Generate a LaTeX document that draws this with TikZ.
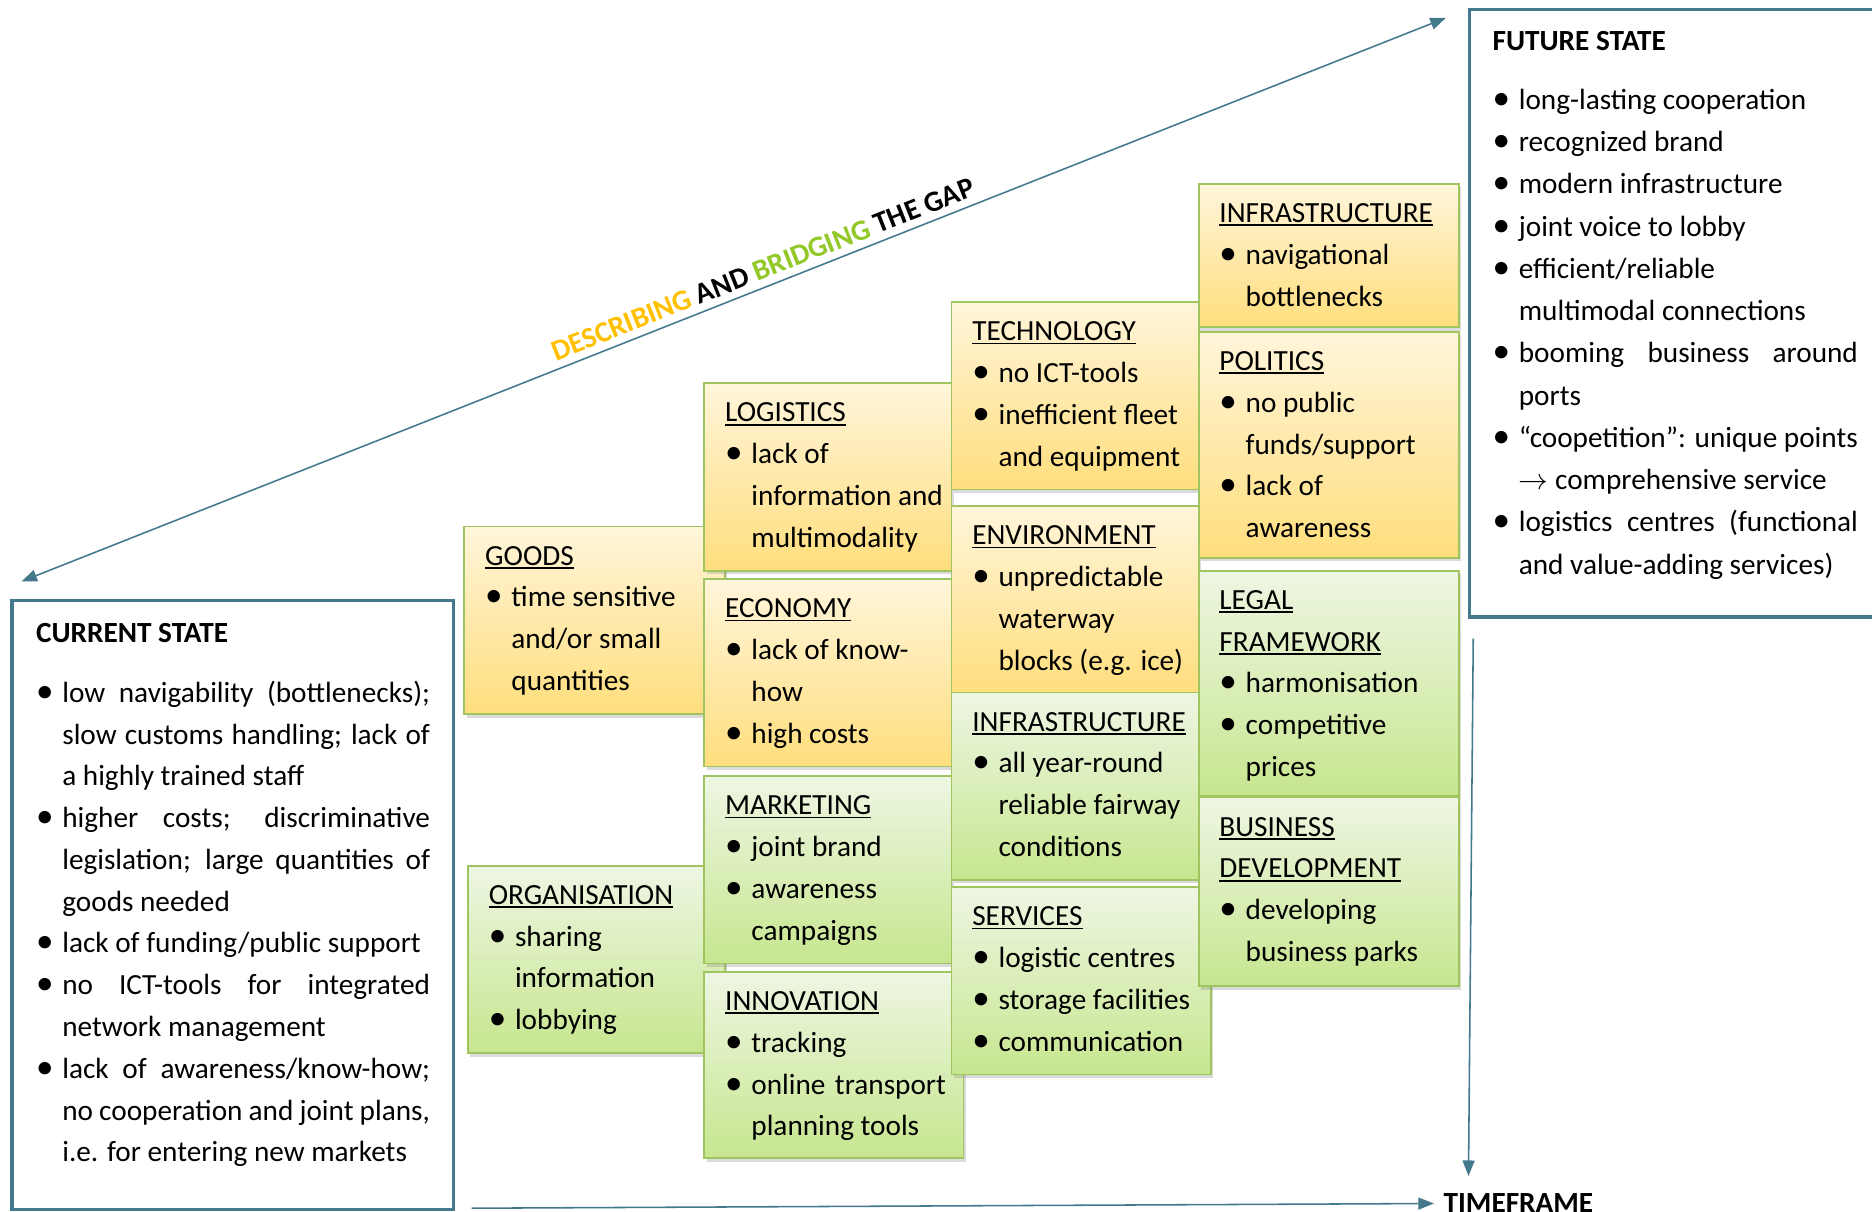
\documentclass[tikz,border=0pt]{standalone}
\usepackage{fontspec}
\setmainfont{Carlito}
\usetikzlibrary{arrows.meta,shadows,fit}

\definecolor{axisblue}{RGB}{68,121,141}
\definecolor{noteline}{RGB}{160,196,96}
\definecolor{ytop}{RGB}{255,245,218}
\definecolor{ybot}{RGB}{255,222,125}
\definecolor{gtop}{RGB}{238,246,227}
\definecolor{gbot}{RGB}{199,230,143}
\definecolor{descr}{RGB}{255,192,0}
\definecolor{bridg}{RGB}{146,200,40}

% underlined heading with a rule placed a little below the baseline
\newcommand\ul[1]{\setbox0\hbox{#1}\rlap{\rule[-3pt]{\wd0}{1.5pt}}\box0}
\newcommand\ttl[1]{\strut\ul{#1}}
% bullet line and continuation line (text starts 22pt in)
\newcommand\bi{\strut\makebox[22pt][l]{\scalebox{1.2}{\textbullet}}}
\newcommand\ci{\strut\hspace*{22pt}}
% justified line of a given width
\newcommand\js[2]{\makebox[#1][s]{#2}}

\tikzset{
  note/.style={draw=noteline, line width=1.6pt, inner sep=0pt,
    drop shadow={opacity=0.28, shadow xshift=2pt, shadow yshift=-3pt}},
  ynote/.style={note, top color=ytop, bottom color=ybot},
  gnote/.style={note, top color=gtop, bottom color=gbot},
  notetext/.style={anchor=north west, inner sep=0pt, align=left,
    font=\fontsize{24.5pt}{35pt}\selectfont},
  axis/.style={draw=axisblue, line width=1.3pt},
  tip/.style={-{Triangle[length=13pt,width=10pt]}},
  statebox/.style={draw=axisblue, line width=3pt, fill=white, inner sep=0pt},
  statetitle/.style={anchor=base west, inner sep=0pt,
    font=\bfseries\fontsize{24.5pt}{35pt}\selectfont},
}

% one sticky note: name, style, left, top, right, bottom, text
\newcommand\notebox[7]{%
  \node[#2, fit={(#3,#4) (#5,#6)}] (#1) {};
  \node[notetext] (#1-t) at ([shift={(18pt,-8.5pt)}]#1.north west) {#7};
}

\begin{document}
\begin{tikzpicture}[x=1pt,y=-1pt]
\useasboundingbox (0,0) rectangle (1568,1015);
\clip (0,0) rectangle (1568,1015);
\fill[white] (0,0) rectangle (1568,1015);

% ---- state boxes ----
\node[statebox, fit={(10,503) (380,1013)}] (current) {};
\node[statetitle] (current-title) at (30,538) {CURRENT STATE};
\node[notetext] (current-list) at (30,563.5) {%
  \bi\js{308pt}{low navigability (bottlenecks);}\\
  \ci\js{308pt}{slow customs handling; lack of}\\
  \ci a highly trained staff\\
  \bi\js{308pt}{higher costs; discriminative}\\
  \ci\js{308pt}{legislation; large quantities of}\\
  \ci goods needed\\
  \bi lack of funding/public support\\
  \bi\js{308pt}{no ICT-tools for integrated}\\
  \ci network management\\
  \bi\js{308pt}{lack of awareness/know-how;}\\
  \ci\js{308pt}{no cooperation and joint plans,}\\
  \ci i.e. for entering new markets};

\node[statebox, fit={(1231,8) (1620,517)}] (future) {};
\node[statetitle] (future-title) at (1250,42) {FUTURE STATE};
\node[notetext, font=\fontsize{24.5pt}{35.4pt}\selectfont] (future-list) at (1250,66.5) {%
  \bi long-lasting cooperation\\
  \bi recognized brand\\
  \bi modern infrastructure\\
  \bi joint voice to lobby\\
  \bi efficient/reliable\\
  \ci multimodal connections\\
  \bi\js{284pt}{booming business around}\\
  \ci ports\\
  \bi\js{284pt}{“coopetition”: unique points}\\
  \ci $\rightarrow$ comprehensive service\\
  \bi\js{284pt}{logistics centres (functional}\\
  \ci and value-adding services)};

% ---- sticky notes, column by column ----
\notebox{goods}{ynote}{389}{441}{607}{598}{%
  \ttl{GOODS}\\ \bi time sensitive\\ \ci and/or small\\ \ci quantities}
\notebox{organisation}{gnote}{392}{725}{607}{882}{%
  \ttl{ORGANISATION}\\ \bi sharing\\ \ci information\\ \bi lobbying}

\notebox{logistics}{ynote}{590}{321}{797}{478}{%
  \ttl{LOGISTICS}\\ \bi lack of\\ \ci information and\\ \ci multimodality}
\notebox{economy}{ynote}{590}{485}{797}{642}{%
  \ttl{ECONOMY}\\ \bi lack of know-\\ \ci how\\ \bi high costs}
\notebox{marketing}{gnote}{590}{650}{797}{807}{%
  \ttl{MARKETING}\\ \bi joint brand\\ \bi awareness\\ \ci campaigns}
\notebox{innovation}{gnote}{590}{814}{807}{970}{%
  \ttl{INNOVATION}\\ \bi tracking\\ \bi\js{163pt}{online transport}\\ \ci planning tools}

\notebox{technology}{ynote}{797}{253}{1004}{410}{%
  \ttl{TECHNOLOGY}\\ \bi no ICT-tools\\ \bi inefficient fleet\\ \ci and equipment}
\notebox{environment}{ynote}{797}{424}{1004}{580}{%
  \ttl{ENVIRONMENT}\\ \bi unpredictable\\ \ci waterway\\ \ci blocks (e.g. ice)}
\notebox{infragreen}{gnote}{797}{580}{1004}{737}{%
  \ttl{INFRASTRUCTURE}\\ \bi all year-round\\ \ci reliable fairway\\ \ci conditions}
\notebox{services}{gnote}{797}{743}{1014}{900}{%
  \ttl{SERVICES}\\ \bi logistic centres\\ \bi storage facilities\\ \bi communication}

\notebox{infrayellow}{ynote}{1004}{154}{1222}{274}{%
  \ttl{INFRASTRUCTURE}\\ \bi navigational\\ \ci bottlenecks}
\notebox{politics}{ynote}{1004}{278}{1222}{467}{%
  \ttl{POLITICS}\\ \bi no public\\ \ci funds/support\\ \bi lack of\\ \ci awareness}
\notebox{legal}{gnote}{1004}{478}{1222}{667}{%
  \ttl{LEGAL}\\ \ttl{FRAMEWORK}\\ \bi harmonisation\\ \bi competitive\\ \ci prices}
\notebox{business}{gnote}{1004}{668}{1222}{826}{%
  \ttl{BUSINESS}\\ \ttl{DEVELOPMENT}\\ \bi developing\\ \ci business parks}

% ---- axes ----
\coordinate (gapstart) at (18,487);
\coordinate (gapend) at (1211,15);
\draw[axis, {Triangle[length=13pt,width=10pt]}-{Triangle[length=13pt,width=10pt]}] (gapstart) -- (gapend);
\node[rotate=21.6, anchor=base, inner sep=0pt,
      font=\bfseries\fontsize{24.5pt}{28pt}\selectfont] (gaplabel) at (642,233)
  {\textcolor{descr}{DESCRIBING} AND \textcolor{bridg}{BRIDGING} THE GAP};

\node[statetitle] (timeframe) at (1209,1016) {TIMEFRAME};
\coordinate (timestart) at (395,1012);
\draw[axis, tip] (timestart) -- ([xshift=-8pt]timeframe.west);

\coordinate (downstart) at (1234,535);
\coordinate (downend) at (1230,985);
\draw[axis, tip] (downstart) -- (downend);
\end{tikzpicture}
\end{document}
